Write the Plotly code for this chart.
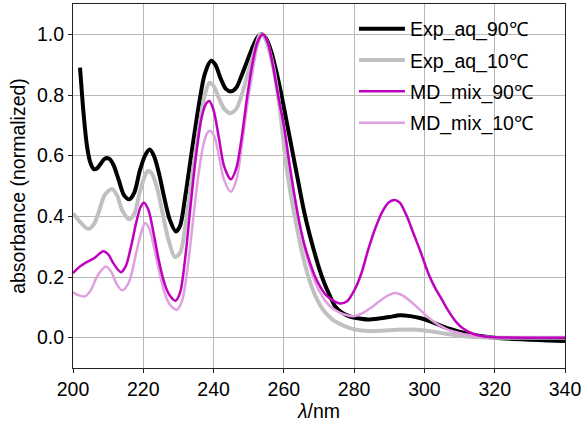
import plotly.graph_objects as go

# ---- data ----
exp90_x = [202, 203, 204, 205, 206, 207, 208, 209, 210.3, 211.5, 213, 214.5, 216, 217.5, 219, 220.5, 221.8, 223,
           224.5, 226, 227.5, 229.3, 230.5, 232, 234, 236, 237.5, 239.3, 240.5, 242, 243.5, 245, 246.5, 248, 249.5,
           251, 252.5, 253.7, 255, 256.5, 258, 259.5, 261, 262.5, 264, 265.5, 267, 268.5, 270, 271.5, 273, 274.5,
           276, 277.5, 279, 281, 284, 287, 290, 293, 296, 299, 302, 305, 308, 311, 314, 317, 320, 325, 330, 335, 340]
exp90_y = [0.89, 0.74, 0.63, 0.575, 0.555, 0.56, 0.575, 0.59, 0.59, 0.57, 0.52, 0.47, 0.456, 0.48, 0.55, 0.6, 0.62,
           0.6, 0.54, 0.46, 0.39, 0.35, 0.37, 0.47, 0.63, 0.78, 0.87, 0.913, 0.9, 0.855, 0.82, 0.812, 0.825, 0.865,
           0.91, 0.955, 0.99, 1.0, 0.985, 0.94, 0.87, 0.79, 0.7, 0.61, 0.52, 0.43, 0.355, 0.29, 0.23, 0.18, 0.14,
           0.105, 0.087, 0.076, 0.069, 0.064, 0.06, 0.063, 0.068, 0.074, 0.071, 0.064, 0.052, 0.038, 0.026, 0.016,
           0.009, 0.004, 0.0, -0.004, -0.007, -0.009, -0.011]

exp10_x = [200, 201, 202.5, 204, 204.8, 206, 207.5, 209, 211, 212.5, 214, 216, 217.5, 219, 220.5, 221.4, 222.5, 224,
           225.5, 227, 229, 230.5, 232, 234, 236, 237.5, 238.8, 240, 241.5, 243, 244.7, 246.5, 248, 249.5, 251,
           252.3, 253.3, 254.5, 256, 257.5, 259, 260.5, 262, 263.5, 265, 266.5, 268, 269.5, 271, 272.5, 274, 276,
           278, 280, 284, 288, 292, 296, 300, 303, 306, 309, 312, 316, 320, 330, 340]
exp10_y = [0.41, 0.395, 0.375, 0.36, 0.36, 0.375, 0.42, 0.47, 0.49, 0.47, 0.42, 0.39, 0.41, 0.48, 0.535, 0.55, 0.54,
           0.49, 0.41, 0.33, 0.266, 0.28, 0.37, 0.54, 0.7, 0.8, 0.84, 0.83, 0.79, 0.755, 0.74, 0.755, 0.8, 0.86,
           0.92, 0.97, 1.0, 0.99, 0.94, 0.86, 0.74, 0.585, 0.47, 0.375, 0.29, 0.22, 0.165, 0.125, 0.095, 0.074,
           0.058, 0.045, 0.035, 0.028, 0.022, 0.023, 0.026, 0.027, 0.024, 0.019, 0.013, 0.008, 0.004, 0.001, 0.0,
           0.0, 0.0]

md90_x = [200, 202, 204, 206, 208.6, 210, 211.5, 213.6, 215, 216.5, 218, 219.2, 220.2, 221.5, 223, 224.5, 226, 227.5,
          229.2, 230.5, 232, 233.5, 235, 236.5, 237.8, 238.8, 240, 241.5, 243, 244.9, 246.5, 248, 249.5, 251, 252.5,
          254, 255.5, 257, 258.5, 260, 261.5, 263, 264.5, 266, 267.5, 269, 270.5, 272, 274, 276, 278, 280, 282, 284,
          286, 288, 290, 291.6, 293, 295, 297, 299, 301, 303, 305, 307, 309, 311, 314, 317, 320, 330, 340]
md90_y = [0.213, 0.235, 0.25, 0.262, 0.285, 0.275, 0.245, 0.216, 0.235, 0.3, 0.38, 0.43, 0.445, 0.42, 0.34, 0.25,
          0.18, 0.14, 0.122, 0.15, 0.27, 0.44, 0.6, 0.72, 0.77, 0.78, 0.75, 0.66, 0.565, 0.522, 0.56, 0.66, 0.79,
          0.9, 0.975, 1.0, 0.97, 0.89, 0.79, 0.7, 0.58, 0.47, 0.375, 0.3, 0.245, 0.198, 0.165, 0.14, 0.122, 0.113,
          0.12, 0.155, 0.21, 0.29, 0.36, 0.415, 0.447, 0.454, 0.445, 0.4, 0.34, 0.28, 0.215, 0.165, 0.125, 0.085,
          0.052, 0.03, 0.012, 0.004, 0.001, 0.0, 0.0]

md10_x = [200, 201.5, 203.4, 205, 207, 209.4, 211, 212.5, 214.1, 216, 218, 219.5, 220.5, 221.7, 223, 224.5, 226, 227.5,
          229.5, 231, 232.5, 234, 235.5, 237, 238, 239, 240.2, 241.5, 243, 244.9, 246.5, 248, 249.5, 251, 252.5, 254,
          255.5, 257, 258.5, 260, 261.5, 263, 264.5, 266, 267.5, 269, 270.5, 272, 274, 276, 278, 279.5, 281, 283, 285,
          287, 289, 291.6, 294, 296, 298, 300, 302, 304, 306, 308, 311, 314, 317, 320, 330, 340]
md10_y = [0.15, 0.14, 0.136, 0.155, 0.205, 0.235, 0.215, 0.175, 0.156, 0.185, 0.28, 0.35, 0.378, 0.36, 0.3, 0.22,
          0.15, 0.11, 0.092, 0.12, 0.22, 0.37, 0.52, 0.63, 0.67, 0.682, 0.665, 0.6, 0.52, 0.481, 0.52, 0.63, 0.76,
          0.87, 0.96, 1.0, 0.97, 0.89, 0.79, 0.69, 0.575, 0.465, 0.37, 0.29, 0.23, 0.18, 0.145, 0.118, 0.095, 0.082,
          0.074, 0.071, 0.074, 0.085, 0.1, 0.118, 0.135, 0.147, 0.138, 0.12, 0.1, 0.078, 0.058, 0.042, 0.03, 0.021,
          0.012, 0.006, 0.003, 0.001, 0.0, 0.0]

x_ticks = [200, 220, 240, 260, 280, 300, 320, 340]
y_ticks = [0.0, 0.2, 0.4, 0.6, 0.8, 1.0]

FONT = "Liberation Sans, Arial, Helvetica, sans-serif"

fig = go.Figure()
series = [
    ("Exp_aq_90℃", exp90_x, exp90_y, "#000000", 4.0, 1),
    ("Exp_aq_10℃", exp10_x, exp10_y, "#c0c0c0", 4.0, 2),
    ("MD_mix_10℃", md10_x, md10_y, "#e0a0e0", 2.5, 4),
    ("MD_mix_90℃", md90_x, md90_y, "#bf00bf", 2.5, 3),
]
for name, xs, ys, col, w, rank in series:
    fig.add_trace(go.Scatter(
        x=xs, y=ys, mode="lines", name=name,
        line=dict(color=col, width=w, shape="spline", smoothing=0.8),
        legendrank=rank, legendgroup=name,
    ))

axis_common = dict(
    showline=True, linecolor="#222222", linewidth=1, mirror=True,
    ticks="outside", ticklen=4, tickwidth=1, tickcolor="#222222",
    showgrid=True, gridcolor="#b8b8b8", gridwidth=1, zeroline=False,
    tickfont=dict(family=FONT, size=19.5, color="black"),
)

fig.update_layout(
    width=584, height=423,
    margin=dict(l=73, r=19, t=4, b=55),
    paper_bgcolor="white", plot_bgcolor="white",
    font=dict(family=FONT, size=19.5, color="black"),
    showlegend=True,
    legend=dict(
        x=0.571, y=0.985, xanchor="left", yanchor="top",
        bgcolor="rgba(0,0,0,0)", borderwidth=0,
        font=dict(family=FONT, size=19.5, color="black"),
        tracegroupgap=3, itemwidth=46,
    ),
    xaxis=dict(
        range=[200, 340], tickvals=x_ticks,
        title=dict(text="<i>λ</i>/nm", standoff=4, font=dict(family=FONT, size=19.5)),
        **axis_common,
    ),
    yaxis=dict(
        range=[-0.1, 1.1], tickvals=y_ticks, tickformat=".1f",
        title=dict(text="absorbance (normalized)", standoff=6, font=dict(family=FONT, size=19.5)),
        **axis_common,
    ),
)

fig.write_html("out.html", config={"displayModeBar": False},
               post_script="document.body.style.margin='0px';")
